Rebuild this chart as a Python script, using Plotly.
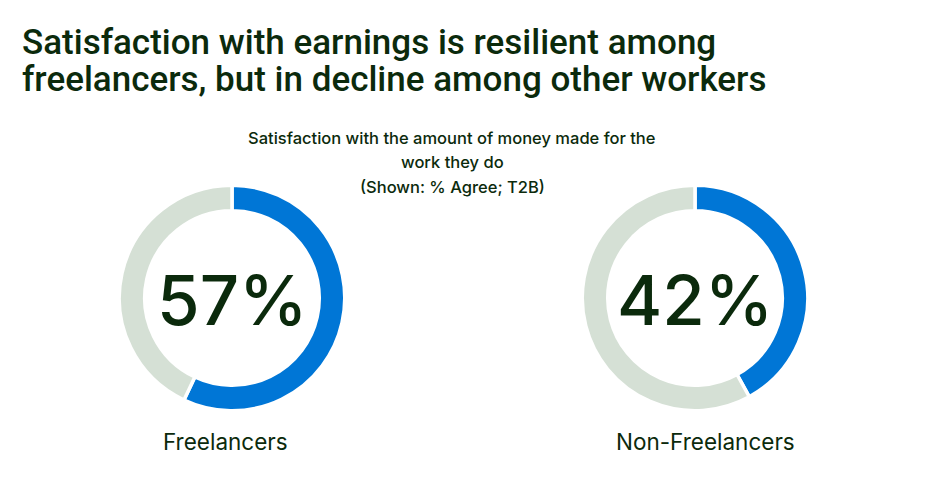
import plotly.graph_objects as go

groups = ["Freelancers", "Non-Freelancers"]
agree = [57, 42]
title_lines = ["Satisfaction with earnings is resilient among",
               "freelancers, but in decline among other workers"]
subtitle_lines = ["Satisfaction with the amount of money made for the", "work they do", "(Shown: % Agree; T2B)"]

BLUE = "#0076D6"
GREY = "#D5E0D5"
DARK = "#0B2A0C"
FONT = "Inter"
W, H = 936, 492

fig = go.Figure()

centers_x = [232, 695]
label_x = [225, 705]
cy = 298
R = 112.75

for i, g in enumerate(groups):
    cx = centers_x[i]
    fig.add_trace(go.Pie(
        values=[agree[i], 100 - agree[i]],
        labels=["Agree", "Other"],
        marker=dict(colors=[BLUE, GREY], line=dict(color="white", width=3.5)),
        hole=0.774,
        sort=False,
        direction="clockwise",
        rotation=0,
        textinfo="none",
        hoverinfo="label+value",
        showlegend=False,
        domain=dict(x=[(cx - R) / W, (cx + R) / W], y=[1 - (cy + R) / H, 1 - (cy - R) / H]),
    ))
    fig.add_annotation(
        x=cx / W, y=1 - (cy + 2) / H, xref="paper", yref="paper",
        text=f"{agree[i]}%", showarrow=False,
        font=dict(family=FONT, size=69, color=DARK, weight=500),
        xanchor="center", yanchor="middle",
    )
    fig.add_annotation(
        x=label_x[i] / W, y=1 - 441 / H, xref="paper", yref="paper",
        text=g, showarrow=False,
        font=dict(family=FONT, size=22.5, color=DARK),
        xanchor="center", yanchor="middle",
    )

for line, yy in zip(title_lines, [42.5, 79.5]):
    fig.add_annotation(
        x=20 / W, y=1 - yy / H, xref="paper", yref="paper",
        text=line, showarrow=False, align="left",
        font=dict(family="Roboto", size=35, color=DARK, weight=500),
        xanchor="left", yanchor="middle",
    )

sub_y = [138, 162, 187]
for line, yy in zip(subtitle_lines, sub_y):
    fig.add_annotation(
        x=452 / W, y=1 - yy / H, xref="paper", yref="paper",
        text=line, showarrow=False,
        font=dict(family=FONT, size=16.5, color=DARK, weight=500),
        xanchor="center", yanchor="middle",
    )

fig.update_layout(
    width=W, height=H,
    margin=dict(l=0, r=0, t=0, b=0),
    paper_bgcolor="white", plot_bgcolor="white",
)

fig.write_html("out.html")
